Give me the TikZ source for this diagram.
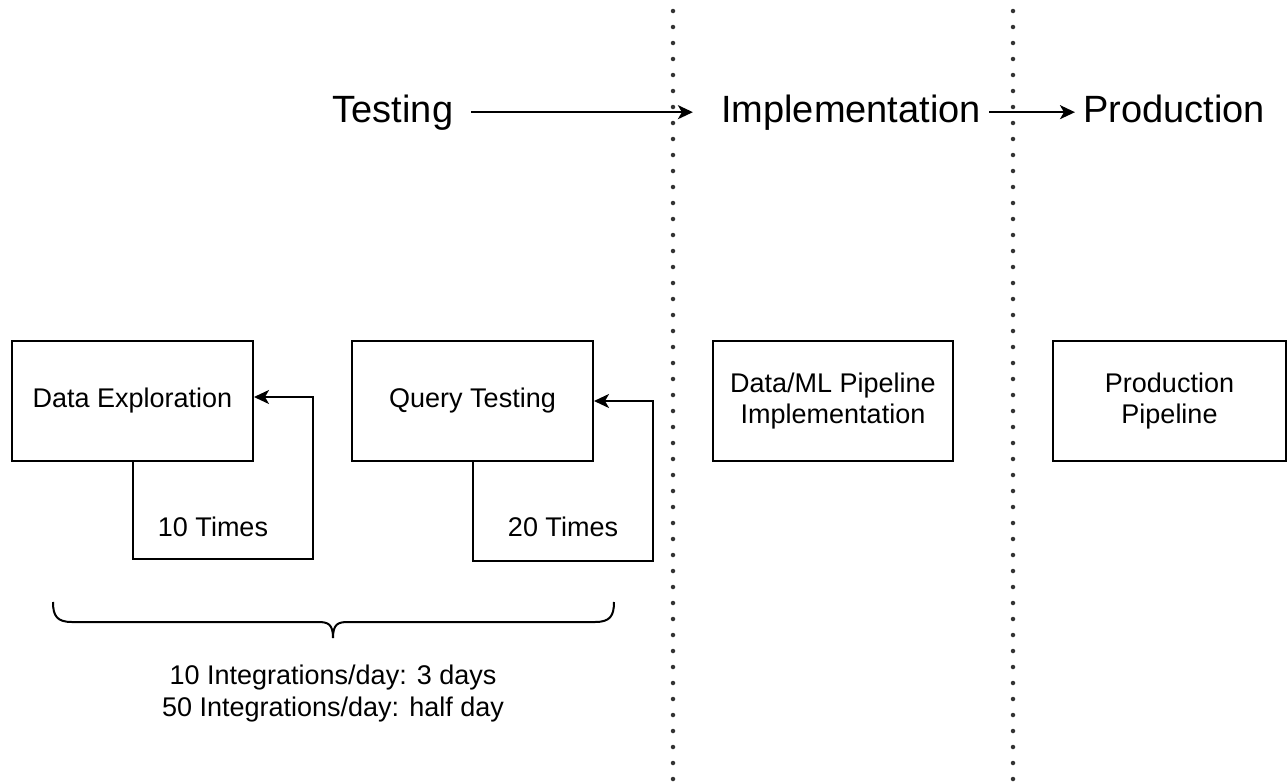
\documentclass[tikz,border=0pt]{standalone}
\usepackage{fontspec}
\setmainfont{Liberation Sans}
\usetikzlibrary{arrows.meta}
\begin{document}
\begin{tikzpicture}[x=1pt,y=-1pt,
  box/.style={draw, line width=2pt, minimum width=241pt, minimum height=120pt, inner sep=0pt, font=\fontsize{27}{31}\selectfont, align=center},
  hdr/.style={font=\fontsize{38}{44}\selectfont, inner sep=0pt, anchor=base},
  lbl/.style={font=\fontsize{27}{32}\selectfont, inner sep=0pt, align=center},
  conn/.style={line width=2pt, -{Stealth[length=15pt,width=14pt,inset=4pt]}},
  dotline/.style={line width=4.5pt, line cap=round, dash pattern=on 0pt off 16pt, black!80},
  bracepath/.style={line width=2pt}]
\path[use as bounding box] (0,0) rectangle (1288,782);

% dotted separators
\draw[dotline] (673,11) -- (673,782);
\draw[dotline] (1013,11) -- (1013,782);

% headers
\node[hdr] (test) at (393,122) {Testing};
\node[hdr] (impl) at (851,122) {Implementation};
\node[hdr] (prod) at (1174,122) {Production};
\draw[conn] ([xshift=18pt]test.east) -- ([xshift=-28pt]impl.west);
\draw[conn] ([xshift=8pt]impl.east) -- ([xshift=-8pt]impl.east -| prod.west);

% boxes
\node[box] (de) at (132.5,401) {Data Exploration};
\node[box] (qt) at (472.5,401) {Query Testing};
\node[box, minimum width=240pt] (dml) at (833,401) {Data/ML Pipeline\\Implementation};
\node[box, minimum width=233pt] (pp) at (1169.5,401) {Production\\Pipeline};

% loops
\draw[conn] (de.south) -- ++(0,97) -- ++(180,0) |- ([yshift=4pt]de.east);
\draw[conn] (qt.south) -- ++(0,99) -- ++(180,0) |- (qt.east);
\node[lbl] (t10) at (213,527) {10 Times};
\node[lbl] (t20) at (563,527) {20 Times};

% brace
\draw[bracepath] (53,602) .. controls (53,616) and (57,622) .. (72,622) -- (318,622)
  .. controls (328,622) and (333,624) .. (333,638);
\draw[bracepath] (333,638) .. controls (333,624) and (338,622) .. (348,622) -- (595,622)
  .. controls (610,622) and (614,616) .. (614,602);

% note
\node[lbl] (note) at (333,694) {10 Integrations/day: 3 days\\50 Integrations/day: half day};
\end{tikzpicture}
\end{document}
